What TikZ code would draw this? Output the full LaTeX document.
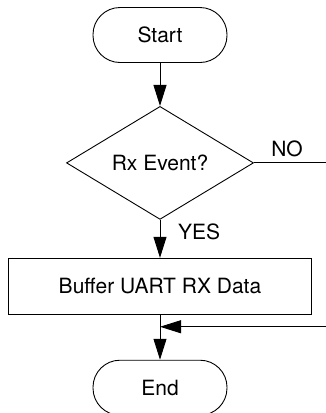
\documentclass[tikz,border=0pt]{standalone}
\usepackage{fontspec}
\setmainfont{TeX Gyre Heros}
\usetikzlibrary{arrows.meta,positioning,shapes.geometric}

\begin{document}
\begin{tikzpicture}[
  x=1pt, y=1pt,
  font=\fontsize{21}{25}\selectfont,
  >={Triangle[length=21pt, width=13pt]},
  term/.style={rectangle, rounded corners=27pt, draw, line width=0.9pt,
               minimum width=134pt, minimum height=55pt},
  decision/.style={diamond, draw, line width=0.9pt, aspect=1.65,
                   minimum width=187pt, minimum height=113pt, inner sep=0pt},
  proc/.style={rectangle, draw, line width=0.9pt,
               minimum width=303pt, minimum height=56pt},
  lab/.style={inner sep=0pt},
  arr/.style={->, line width=0.9pt},
  wire/.style={line width=0.9pt},
]
\useasboundingbox (0,0) rectangle (326,-413);

% ---------------------------------------------------------------- main column
\node[term] (start) at (160,-35) {Start};
\node[decision, below=43pt of start] (rx) {Rx Event?};
\node[proc, below=38pt of rx] (buf) {Buffer UART RX Data};
\node[term, below=45pt of buf] (stop) {End};

\draw[arr] (start) -- (rx);
\draw[arr] (rx) -- (buf);
\draw[arr] (buf) -- (stop);

% ---------------------------------------------------------------- no branch
\coordinate[right=73pt of rx.east] (noend);
\coordinate[below=12pt of buf.south] (merge);
\coordinate (back) at (merge -| noend);

\draw[wire] (rx) -- (noend);
\draw[arr] (back) -- (merge);

\node[lab, above left=6pt and 24pt of noend] (no) {NO};
\node[lab, below right=4pt and 18pt of rx.south] (yes) {YES};
\end{tikzpicture}
\end{document}
